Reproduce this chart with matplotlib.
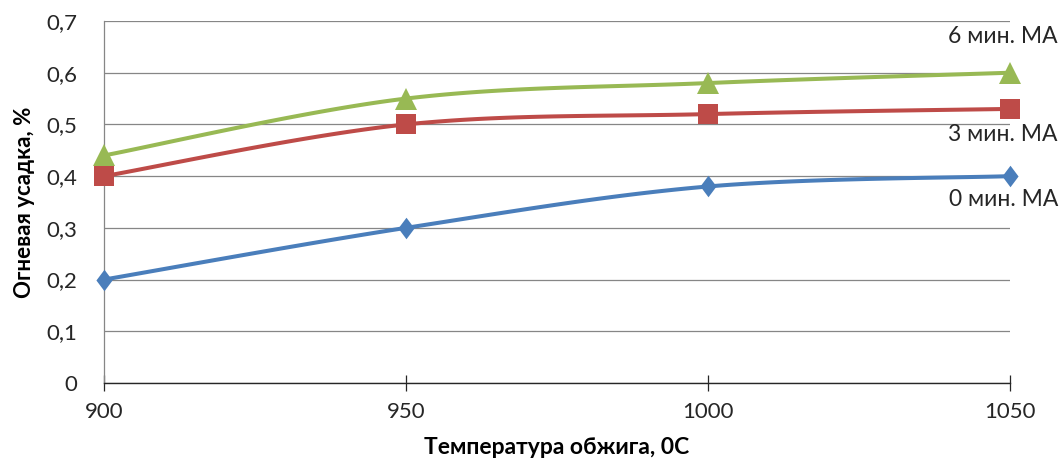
import numpy as np
import matplotlib
matplotlib.use("Agg")
import matplotlib.pyplot as plt
from matplotlib.path import Path

temps = [900, 950, 1000, 1050]
shrink_0 = [0.20, 0.30, 0.38, 0.40]
shrink_3 = [0.40, 0.50, 0.52, 0.53]
shrink_6 = [0.44, 0.55, 0.58, 0.60]
series_names = ["0 мин. МА", "3 мин. МА", "6 мин. МА"]
y_ticks = [0, 0.1, 0.2, 0.3, 0.4, 0.5, 0.6, 0.7]
y_tick_labels = ["0", "0,1", "0,2", "0,3", "0,4", "0,5", "0,6", "0,7"]

plt.rcParams["font.family"] = ["Lato", "DejaVu Sans"]

fig = plt.figure(figsize=(10.64, 4.65), dpi=100)
ax = fig.add_axes([104 / 1064, 1 - 383 / 465, 906 / 1064, 362 / 465])

xpos = np.arange(len(temps))
ax.set_xlim(0, len(temps) - 1)
ax.set_ylim(0, 0.7)


def smooth(xs, ys, n=40):
    """Bezier smoothing through the points, computed in axes space."""
    to_ax = ax.transData + ax.transAxes.inverted()
    pts = to_ax.transform(np.column_stack([xs, ys]))
    out = [pts[0]]
    m = len(pts)
    t = np.linspace(0, 1, n)[1:, None]
    for i in range(m - 1):
        p0 = pts[max(i - 1, 0)]
        p1 = pts[i]
        p2 = pts[i + 1]
        p3 = pts[min(i + 2, m - 1)]
        c1 = p1 + (p2 - p0) / 6
        c2 = p2 - (p3 - p1) / 6
        seg = ((1 - t) ** 3) * p1 + 3 * ((1 - t) ** 2) * t * c1 + 3 * (1 - t) * t ** 2 * c2 + t ** 3 * p2
        out.extend(seg)
    out = np.array(out)
    back = ax.transAxes + ax.transData.inverted()
    d = back.transform(out)
    return d[:, 0], d[:, 1]


# tall diamond marker
diamond = Path([(0, 1), (0.75, 0), (0, -1), (-0.75, 0), (0, 1)],
               [Path.MOVETO, Path.LINETO, Path.LINETO, Path.LINETO, Path.CLOSEPOLY])

styles = [
    (shrink_0, "#4A7EBB", diamond, 15.5),
    (shrink_3, "#BE4B48", "s", 15),
    (shrink_6, "#98B954", "^", 15.5),
]

for vals, col, mk, ms in styles:
    sx, sy = smooth(xpos, vals)
    ax.plot(sx, sy, color=col, lw=2.9, solid_capstyle="round", zorder=3, clip_on=False)
    ax.plot(xpos, vals, linestyle="none", marker=mk, color=col, markersize=ms,
            markeredgewidth=0, zorder=4, clip_on=False)

ax.set_yticks(y_ticks)
ax.set_yticklabels(y_tick_labels)
ax.set_xticks(xpos)
ax.set_xticklabels([str(t) for t in temps])
ax.grid(axis="y", color="#868686", lw=0.9, zorder=0)
ax.set_axisbelow(True)

for s in ["top", "right"]:
    ax.spines[s].set_visible(False)
ax.spines["left"].set_color("#868686")
ax.spines["left"].set_linewidth(0.9)
ax.spines["bottom"].set_color("#262626")
ax.spines["bottom"].set_linewidth(1.0)

ax.tick_params(axis="y", length=0, labelsize=16, colors="#262626", pad=19)
ax.tick_params(axis="x", direction="inout", length=11, width=0.9, color="#262626",
               labelsize=16, labelcolor="#262626", pad=8)

ax.set_ylabel("Огневая усадка, %", fontsize=16, fontweight="bold", color="#000000", labelpad=8)
ax.set_xlabel("Температура обжига, 0С", fontsize=16.5, fontweight="bold", color="#000000", labelpad=11)

label_offsets = [(48, -23), (48, -26), (48, 36)]
for vals, name, (dx, dy) in zip([shrink_0, shrink_3, shrink_6], series_names, label_offsets):
    ax.annotate(name, xy=(xpos[-1], vals[-1]), xytext=(dx, dy), textcoords="offset pixels",
                ha="right", va="center", fontsize=16.5, color="#262626", annotation_clip=False)

fig.savefig("out.png", dpi=100)
